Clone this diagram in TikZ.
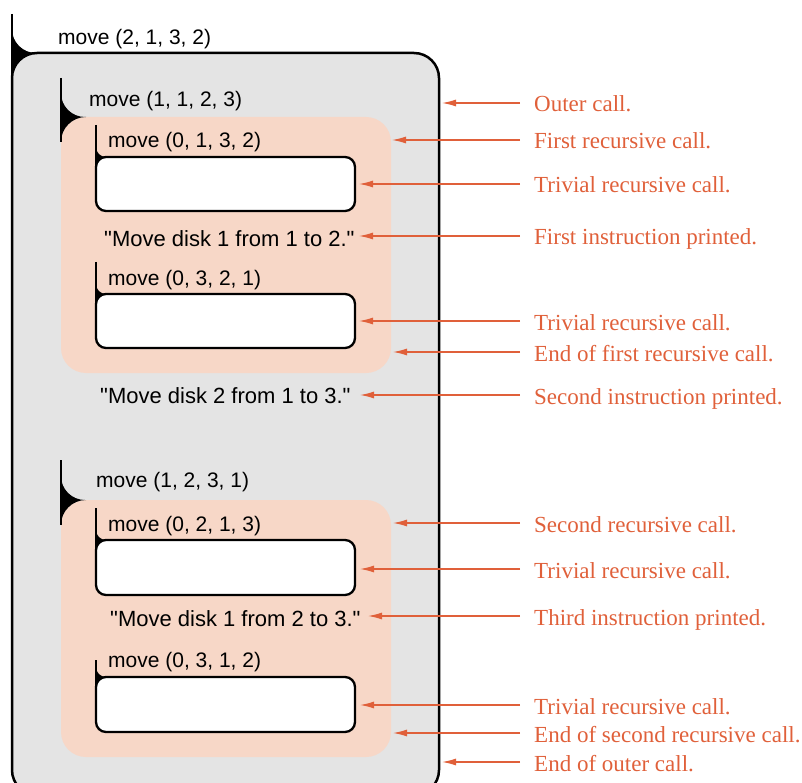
\documentclass[tikz,border=0pt]{standalone}
\usepackage{fontspec}
\setmainfont{Liberation Serif}
\newfontfamily\sansf{Liberation Sans}
\usetikzlibrary{arrows.meta}
\definecolor{callgray}{HTML}{E4E4E4}
\definecolor{peach}{HTML}{F7D7C7}
\definecolor{anno}{HTML}{E0603A}
% cusp of a bracket: x, cusp y, radius above, radius below
\newcommand\cuspfill[4]{%
  \fill (#1,#2-#3) .. controls (#1,#2-0.4477*#3) and (#1+0.4477*#3,#2) .. (#1+#3,#2)
        -- (#1+#4,#2) .. controls (#1+0.4477*#4,#2) and (#1,#2+0.4477*#4) .. (#1,#2+#4) -- cycle;}
\tikzset{
  lbl/.style={font=\sansf\fontsize{21}{25}\selectfont, inner sep=0pt, anchor=base west},
  quot/.style={font=\sansf\fontsize{22}{26}\selectfont, inner sep=0pt, anchor=base west},
  ann/.style={font=\fontsize{23}{27}\selectfont, text=anno, inner xsep=14pt, inner ysep=0pt,
              text height=18pt, text depth=0pt, anchor=base west},
  arr/.style={draw=anno, line width=1.3pt, -{Latex[length=14pt,width=7pt]}},
  outerbox/.style={draw, line width=2.5pt, fill=callgray, rounded corners=25pt},
  peachbox/.style={fill=peach, rounded corners=25pt},
  whitebox/.style={draw, line width=2.3pt, fill=white, rounded corners=10pt},
  brk/.style={line width=2.3pt},
}
\begin{document}
\begin{tikzpicture}[x=1pt,y=-1pt]
\useasboundingbox (0,0) rectangle (802,783);
\clip (0,0) rectangle (802,783);
% outer call
\draw[outerbox] (12,53) rectangle (439,795);
\draw[line width=2.5pt] (12,14) -- (12,78);
\cuspfill{12}{53}{24}{25}
% first recursive call
\fill[peachbox] (61,117) rectangle (391,373);
\draw[brk] (61,78) -- (61,142);
\cuspfill{61}{117}{24}{25}
% second recursive call
\fill[peachbox] (61,500) rectangle (391,757);
\draw[brk] (61,460) -- (61,525);
\cuspfill{61}{500}{24}{25}
% trivial calls
\draw[whitebox] (96,157) rectangle (355,211);
\draw[brk] (96,125) -- (96,167);
\cuspfill{96}{157}{10}{10}
\draw[whitebox] (96,294) rectangle (355,348);
\draw[brk] (96,262) -- (96,304);
\cuspfill{96}{294}{10}{10}
\draw[whitebox] (96,540) rectangle (355,595);
\draw[brk] (96,508) -- (96,550);
\cuspfill{96}{540}{10}{10}
\draw[whitebox] (96,677) rectangle (355,732);
\draw[brk] (96,660) -- (96,687);
\cuspfill{96}{677}{10}{10}
% labels
\node[lbl] (l1) at (58,45) {move (2, 1, 3, 2)};
\node[lbl] (l2) at (89,107) {move (1, 1, 2, 3)};
\node[lbl] (l3) at (108,148) {move (0, 1, 3, 2)};
\node[quot] (q1) at (104,247) {"Move disk 1 from 1 to 2."};
\node[lbl] (l4) at (108,286) {move (0, 3, 2, 1)};
\node[quot] (q2) at (100,403) {"Move disk 2 from 1 to 3."};
\node[lbl] (l5) at (96,487) {move (1, 2, 3, 1)};
\node[lbl] (l6) at (108,531) {move (0, 2, 1, 3)};
\node[quot] (q3) at (110,626) {"Move disk 1 from 2 to 3."};
\node[lbl] (l7) at (108,667) {move (0, 3, 1, 2)};
% annotation tips
\coordinate (t1) at (442,103);
\coordinate (t2) at (392,140);
\coordinate (t3) at (359,184);
\coordinate (t4) at (359,236);
\coordinate (t5) at (359,321);
\coordinate (t6) at (393,352);
\coordinate (t7) at (360,395);
\coordinate (t8) at (393,523);
\coordinate (t9) at (360,569);
\coordinate (t10) at (368,616);
\coordinate (t11) at (360,705);
\coordinate (t12) at (393,733);
\coordinate (t13) at (442,762);
% annotations
\node[ann] (a1) at (520,112) {Outer call.};
\node[ann] (a2) at (520,149) {First recursive call.};
\node[ann] (a3) at (520,193) {Trivial recursive call.};
\node[ann] (a4) at (520,245) {First instruction printed.};
\node[ann] (a5) at (520,330) {Trivial recursive call.};
\node[ann] (a6) at (520,361) {End of first recursive call.};
\node[ann] (a7) at (520,404) {Second instruction printed.};
\node[ann] (a8) at (520,532) {Second recursive call.};
\node[ann] (a9) at (520,578) {Trivial recursive call.};
\node[ann] (a10) at (520,625) {Third instruction printed.};
\node[ann] (a11) at (520,714) {Trivial recursive call.};
\node[ann] (a12) at (520,742) {End of second recursive call.};
\node[ann] (a13) at (520,771) {End of outer call.};
\foreach \i in {1,...,13} \draw[arr] (a\i.west) -- (t\i);
\end{tikzpicture}
\end{document}
